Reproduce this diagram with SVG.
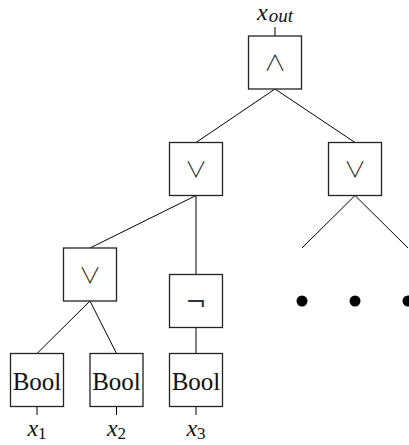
<svg xmlns="http://www.w3.org/2000/svg" width="409" height="445" viewBox="0 0 409 445">
<style>
.box{fill:#fff;stroke:#222;stroke-width:1.3}
.edge{stroke:#000;stroke-width:1;fill:none}
.sym{font-family:"Noto Sans CJK JP","DejaVu Sans",sans-serif;font-weight:300;font-size:22px;text-anchor:middle;fill:#222}
.neg{font-family:"DejaVu Sans",sans-serif;font-size:25px;text-anchor:middle;fill:#333}
.bool{font-family:"Liberation Serif",serif;font-size:25px;text-anchor:middle;fill:#111}
.var{font-family:"Liberation Serif",serif;font-style:italic;font-size:24px;fill:#111}
.sub{font-style:italic;font-size:19px}
.subn{font-style:normal;font-size:17px}
</style>
<rect width="409" height="445" fill="#fff"/>
<g id="connectors">
<line class="edge" x1="275" y1="27" x2="275" y2="36"/>
<line class="edge" x1="275" y1="89" x2="196" y2="142.5"/>
<line class="edge" x1="275" y1="89" x2="355" y2="142.5"/>
<line class="edge" x1="355" y1="195.5" x2="302" y2="248"/>
<line class="edge" x1="355" y1="195.5" x2="408" y2="248"/>
<line class="edge" x1="196" y1="195.5" x2="90" y2="248"/>
<line class="edge" x1="196" y1="195.5" x2="196" y2="274.5"/>
<line class="edge" x1="90" y1="301" x2="37" y2="353.5"/>
<line class="edge" x1="90" y1="301" x2="116.5" y2="353.5"/>
<line class="edge" x1="196" y1="327.5" x2="196" y2="353.5"/>
<line class="edge" x1="37" y1="406.5" x2="37" y2="415"/>
<line class="edge" x1="116.5" y1="406.5" x2="116.5" y2="415"/>
<line class="edge" x1="196" y1="406.5" x2="196" y2="415"/>
</g>
<g id="and-root"><rect class="box" x="248.5" y="36" width="53" height="53"/><text class="sym" x="275" y="70">∧</text></g>
<g id="or-left"><rect class="box" x="169.5" y="142.5" width="53" height="53"/><text class="sym" x="196" y="177">∨</text></g>
<g id="or-right"><rect class="box" x="328.5" y="142.5" width="53" height="53"/><text class="sym" x="355" y="177">∨</text></g>
<g id="or-lower"><rect class="box" x="63.5" y="248" width="53" height="53"/><text class="sym" x="90" y="282.5">∨</text></g>
<g id="not"><rect class="box" x="169.5" y="274.5" width="53" height="53"/><text class="neg" x="196" y="310">¬</text></g>
<g id="bool1"><rect class="box" x="10.5" y="353.5" width="53" height="53"/><text class="bool" x="37" y="390">Bool</text></g>
<g id="bool2"><rect class="box" x="90" y="353.5" width="53" height="53"/><text class="bool" x="116.5" y="390">Bool</text></g>
<g id="bool3"><rect class="box" x="169.5" y="353.5" width="53" height="53"/><text class="bool" x="196" y="390">Bool</text></g>
<g id="dots">
<circle cx="302" cy="301" r="5.5" fill="#000"/>
<circle cx="355" cy="301" r="5.5" fill="#000"/>
<circle cx="408" cy="301" r="5.5" fill="#000"/>
</g>
<g id="labels">
<text class="var" x="275" y="19.5" text-anchor="middle" font-size="19.5">x<tspan class="sub" dx="1" dy="2" font-size="17">out</tspan></text>
<text class="var" x="37" y="436" text-anchor="middle">x<tspan class="subn" dy="3">1</tspan></text>
<text class="var" x="116.5" y="436" text-anchor="middle">x<tspan class="subn" dy="3">2</tspan></text>
<text class="var" x="196" y="436" text-anchor="middle">x<tspan class="subn" dy="3">3</tspan></text>
</g>
</svg>
